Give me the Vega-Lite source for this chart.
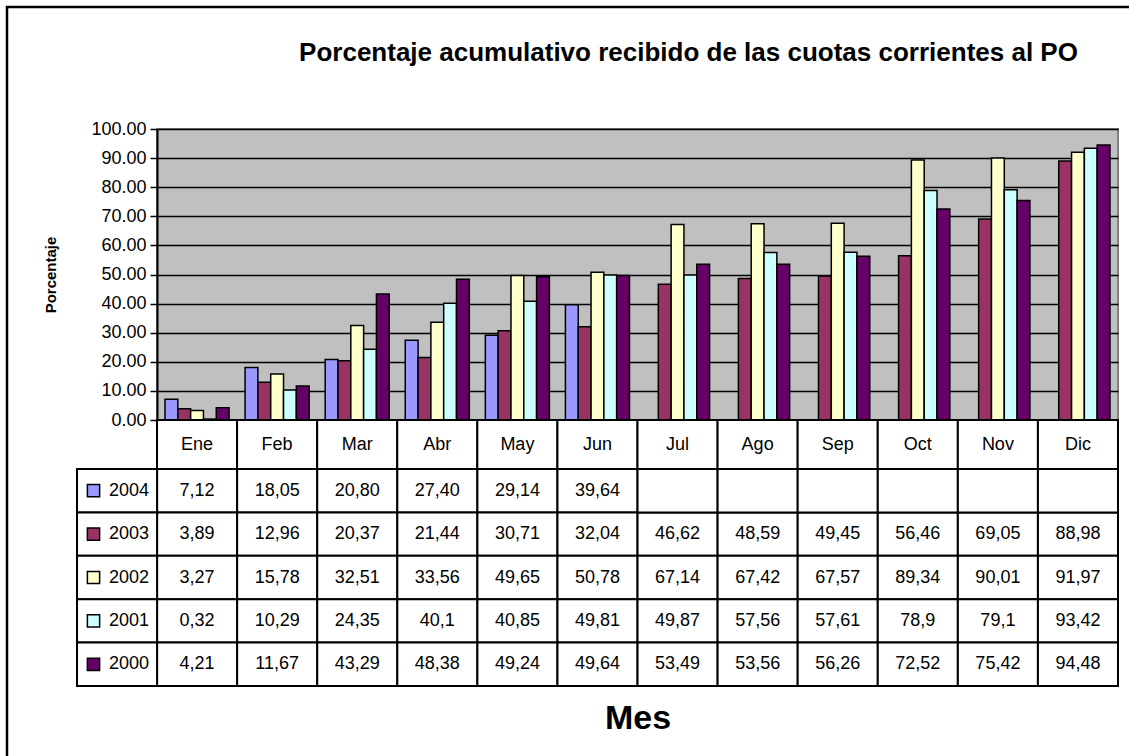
{
  "$schema": "https://vega.github.io/schema/vega-lite/v6.json",
  "width": 961,
  "height": 291,
  "autosize": {"type": "none"},
  "padding": {"left": 157, "top": 129, "right": 11, "bottom": 336},
  "background": "white",
  "title": {
    "text": "Porcentaje acumulativo recibido de las cuotas corrientes al PO",
    "fontSize": 26, "fontWeight": "bold", "color": "black",
    "anchor": "middle", "frame": "group", "dx": 51, "offset": -86, "baseline": "bottom"
  },
  "config": {
    "font": "Liberation Sans",
    "view": {"fill": "#C0C0C0", "stroke": "#808080", "strokeWidth": 2}
  },
  "datasets": {
    "main": [
      {"month": "Ene", "year": "2004", "v": "7,12"},
      {"month": "Feb", "year": "2004", "v": "18,05"},
      {"month": "Mar", "year": "2004", "v": "20,80"},
      {"month": "Abr", "year": "2004", "v": "27,40"},
      {"month": "May", "year": "2004", "v": "29,14"},
      {"month": "Jun", "year": "2004", "v": "39,64"},
      {"month": "Ene", "year": "2003", "v": "3,89"},
      {"month": "Feb", "year": "2003", "v": "12,96"},
      {"month": "Mar", "year": "2003", "v": "20,37"},
      {"month": "Abr", "year": "2003", "v": "21,44"},
      {"month": "May", "year": "2003", "v": "30,71"},
      {"month": "Jun", "year": "2003", "v": "32,04"},
      {"month": "Jul", "year": "2003", "v": "46,62"},
      {"month": "Ago", "year": "2003", "v": "48,59"},
      {"month": "Sep", "year": "2003", "v": "49,45"},
      {"month": "Oct", "year": "2003", "v": "56,46"},
      {"month": "Nov", "year": "2003", "v": "69,05"},
      {"month": "Dic", "year": "2003", "v": "88,98"},
      {"month": "Ene", "year": "2002", "v": "3,27"},
      {"month": "Feb", "year": "2002", "v": "15,78"},
      {"month": "Mar", "year": "2002", "v": "32,51"},
      {"month": "Abr", "year": "2002", "v": "33,56"},
      {"month": "May", "year": "2002", "v": "49,65"},
      {"month": "Jun", "year": "2002", "v": "50,78"},
      {"month": "Jul", "year": "2002", "v": "67,14"},
      {"month": "Ago", "year": "2002", "v": "67,42"},
      {"month": "Sep", "year": "2002", "v": "67,57"},
      {"month": "Oct", "year": "2002", "v": "89,34"},
      {"month": "Nov", "year": "2002", "v": "90,01"},
      {"month": "Dic", "year": "2002", "v": "91,97"},
      {"month": "Ene", "year": "2001", "v": "0,32"},
      {"month": "Feb", "year": "2001", "v": "10,29"},
      {"month": "Mar", "year": "2001", "v": "24,35"},
      {"month": "Abr", "year": "2001", "v": "40,1"},
      {"month": "May", "year": "2001", "v": "40,85"},
      {"month": "Jun", "year": "2001", "v": "49,81"},
      {"month": "Jul", "year": "2001", "v": "49,87"},
      {"month": "Ago", "year": "2001", "v": "57,56"},
      {"month": "Sep", "year": "2001", "v": "57,61"},
      {"month": "Oct", "year": "2001", "v": "78,9"},
      {"month": "Nov", "year": "2001", "v": "79,1"},
      {"month": "Dic", "year": "2001", "v": "93,42"},
      {"month": "Ene", "year": "2000", "v": "4,21"},
      {"month": "Feb", "year": "2000", "v": "11,67"},
      {"month": "Mar", "year": "2000", "v": "43,29"},
      {"month": "Abr", "year": "2000", "v": "48,38"},
      {"month": "May", "year": "2000", "v": "49,24"},
      {"month": "Jun", "year": "2000", "v": "49,64"},
      {"month": "Jul", "year": "2000", "v": "53,49"},
      {"month": "Ago", "year": "2000", "v": "53,56"},
      {"month": "Sep", "year": "2000", "v": "56,26"},
      {"month": "Oct", "year": "2000", "v": "72,52"},
      {"month": "Nov", "year": "2000", "v": "75,42"},
      {"month": "Dic", "year": "2000", "v": "94,48"}
    ]
  },
  "layer": [
    {
      "data": {"name": "main"},
      "transform": [{"calculate": "toNumber(replace(datum.v, ',', '.'))", "as": "val"}],
      "mark": {"type": "bar", "stroke": "black", "strokeWidth": 1.5},
      "encoding": {
        "x": {"field": "month", "type": "nominal",
              "scale": {"domain": ["Ene","Feb","Mar","Abr","May","Jun","Jul","Ago","Sep","Oct","Nov","Dic"], "paddingInner": 0, "paddingOuter": 0},
              "axis": null},
        "xOffset": {"field": "year", "type": "nominal",
              "scale": {"domain": ["2004","2003","2002","2001","2000"], "paddingInner": 0, "paddingOuter": 0.625}},
        "y": {"field": "val", "type": "quantitative",
              "scale": {"domain": [0, 100], "nice": false, "zero": true},
              "axis": {
                "orient": "left",
                "values": [0,10,20,30,40,50,60,70,80,90,100],
                "format": ".2f",
                "grid": true, "gridColor": "black", "gridWidth": 1.5, "gridOpacity": 1,
                "domainColor": "black", "domainWidth": 2,
                "tickColor": "black", "tickSize": 7, "tickWidth": 1.5,
                "labelFontSize": 18, "labelColor": "black", "labelPadding": 4,
                "title": "Porcentaje", "titleFontSize": 15, "titleFontWeight": "bold",
                "titleColor": "black", "titlePadding": 32
              }},
        "color": {"field": "year", "type": "nominal",
              "scale": {"domain": ["2004","2003","2002","2001","2000"], "range": ["#9999FF","#993366","#FFFFCC","#CCFFFF","#660066"]},
              "legend": null}
      }
    },
    {
      "data": {"name": "main"},
      "transform": [{"aggregate": [{"op": "count", "as": "n"}], "groupby": ["month"]}],
      "layer": [
        {
          "mark": {"type": "rect", "fill": "white", "stroke": "black", "strokeWidth": 2},
          "encoding": {
            "x": {"field": "month", "type": "nominal",
                  "scale": {"domain": ["Ene","Feb","Mar","Abr","May","Jun","Jul","Ago","Sep","Oct","Nov","Dic"], "paddingInner": 0, "paddingOuter": 0},
                  "axis": {"orient": "bottom", "labels": false, "ticks": false, "domain": false, "grid": false,
                           "title": "Mes", "titleFontSize": 34, "titleFontWeight": "bold", "titleColor": "black", "titlePadding": 281}},
            "y": {"datum": "hdr", "type": "nominal",
                  "scale": {"domain": ["hdr"], "range": [291, 340], "paddingInner": 0, "paddingOuter": 0},
                  "axis": null}
          }
        },
        {
          "mark": {"type": "text", "fontSize": 18, "color": "black"},
          "encoding": {
            "x": {"field": "month", "type": "nominal"},
            "y": {"datum": "hdr", "type": "nominal"},
            "text": {"field": "month"}
          }
        }
      ]
    },
    {
      "data": {"name": "main"},
      "layer": [
        {
          "transform": [{"impute": "v", "key": "month", "groupby": ["year"], "value": ""}],
          "mark": {"type": "rect", "fill": "white", "stroke": "black", "strokeWidth": 2},
          "encoding": {
            "x": {"field": "month", "type": "nominal",
                  "scale": {"domain": ["yr","Ene","Feb","Mar","Abr","May","Jun","Jul","Ago","Sep","Oct","Nov","Dic"], "range": [-80, 961], "paddingInner": 0, "paddingOuter": 0},
                  "axis": null},
            "y": {"field": "year", "type": "nominal",
                  "scale": {"domain": ["2004","2003","2002","2001","2000"], "range": [340, 557], "paddingInner": 0, "paddingOuter": 0},
                  "axis": null}
          }
        },
        {
          "transform": [{"impute": "v", "key": "month", "groupby": ["year"], "value": ""}],
          "mark": {"type": "text", "fontSize": 18, "color": "black"},
          "encoding": {
            "x": {"field": "month", "type": "nominal"},
            "y": {"field": "year", "type": "nominal"},
            "text": {"field": "v"}
          }
        },
        {
          "transform": [{"aggregate": [{"op": "count", "as": "n"}], "groupby": ["year"]}],
          "layer": [
            {
              "mark": {"type": "rect", "fill": "white", "stroke": "black", "strokeWidth": 2},
              "encoding": {
                "x": {"datum": "yr", "type": "nominal"},
                "y": {"field": "year", "type": "nominal"}
              }
            },
            {
              "mark": {"type": "text", "fontSize": 18, "color": "black", "dx": 12},
              "encoding": {
                "x": {"datum": "yr", "type": "nominal"},
                "y": {"field": "year", "type": "nominal"},
                "text": {"field": "year"}
              }
            }
          ]
        }
      ]
    },
    {
      "data": {"name": "main"},
      "transform": [{"aggregate": [{"op": "count", "as": "n"}], "groupby": ["year"]}],
      "mark": {"type": "point", "shape": "square", "filled": true, "size": 150, "stroke": "black", "strokeWidth": 1.5, "opacity": 1},
      "encoding": {
        "x": {"datum": "sq", "type": "nominal",
              "scale": {"domain": ["sq"], "range": [-70, -57], "paddingInner": 0, "paddingOuter": 0}, "axis": null},
        "y": {"field": "year", "type": "nominal",
              "scale": {"domain": ["2004","2003","2002","2001","2000"], "range": [340, 557], "paddingInner": 0, "paddingOuter": 0},
              "axis": null},
        "color": {"field": "year", "type": "nominal"}
      }
    },
    {
      "data": {"values": [{}]},
      "mark": {"type": "rect", "filled": false, "stroke": "black", "strokeWidth": 2.5},
      "encoding": {
        "x": {"datum": 0, "type": "quantitative", "scale": {"domain": [0, 1], "range": [-150, 985], "nice": false, "zero": false}, "axis": null},
        "x2": {"datum": 1},
        "y": {"datum": 0, "type": "quantitative", "scale": {"domain": [0, 1], "range": [-122, 640], "nice": false, "zero": false}, "axis": null},
        "y2": {"datum": 1}
      }
    }
  ],
  "resolve": {
    "scale": {"x": "independent", "y": "independent", "xOffset": "independent"},
    "axis": {"x": "independent", "y": "independent"}
  }
}
